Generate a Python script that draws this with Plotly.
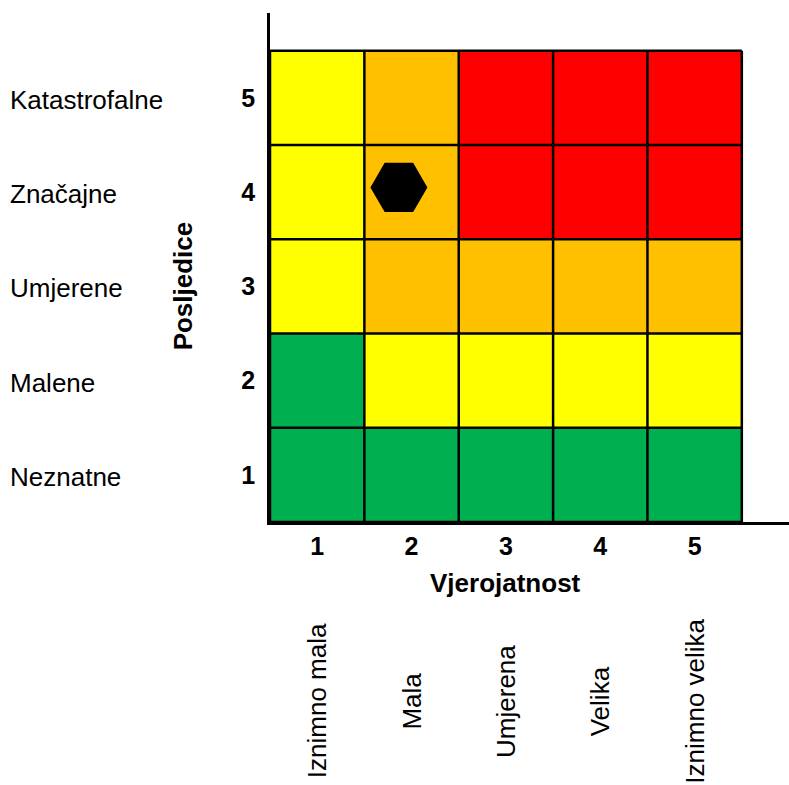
import plotly.graph_objects as go

# Data
likelihood = [1, 2, 3, 4, 5]
consequence = [1, 2, 3, 4, 5]
likelihood_labels = ["Iznimno mala", "Mala", "Umjerena", "Velika", "Iznimno velika"]
consequence_labels = ["Neznatne", "Malene", "Umjerene", "Značajne", "Katastrofalne"]
# risk level per cell: rows = consequence 1..5, cols = likelihood 1..5
# 1 = green, 2 = yellow, 3 = orange, 4 = red
risk_level = [
    [1, 1, 1, 1, 1],
    [1, 2, 2, 2, 2],
    [2, 3, 3, 3, 3],
    [2, 3, 4, 4, 4],
    [2, 3, 4, 4, 4],
]
point_x = [1.866]
point_y = [4.05]

GREEN, YELLOW, ORANGE, RED = "#00B050", "#FFFF00", "#FFC000", "#FF0000"
FONT = "Arial, Liberation Sans, sans-serif"
FS = 26

colorscale = [
    [0.0, GREEN], [1 / 6, GREEN],
    [1 / 6, YELLOW], [0.5, YELLOW],
    [0.5, ORANGE], [5 / 6, ORANGE],
    [5 / 6, RED], [1.0, RED],
]

fig = go.Figure()
fig.add_trace(go.Heatmap(
    x=likelihood, y=consequence, z=risk_level,
    colorscale=colorscale, zmin=1, zmax=4, showscale=False,
    hoverinfo="skip",
))
fig.add_trace(go.Scatter(
    x=point_x, y=point_y, mode="markers",
    marker=dict(symbol="hexagon2", size=57, color="black", line=dict(width=0)),
    showlegend=False, cliponaxis=False,
))

# Cell borders
n = len(likelihood)
lo, hi = likelihood[0] - 0.5, likelihood[-1] + 0.5
shapes = []
for i in range(n + 1):
    v = lo + i
    shapes.append(dict(type="line", xref="x", yref="y", x0=v, x1=v, y0=lo, y1=hi,
                       line=dict(color="black", width=2.5)))
    shapes.append(dict(type="line", xref="x", yref="y", x0=lo, x1=hi, y0=v, y1=v,
                       line=dict(color="black", width=2.5)))

annotations = []
for c, lab in zip(consequence, consequence_labels):
    annotations.append(dict(text=lab, xref="paper", yref="y", x=-0.505, y=c - 0.02,
                            xanchor="left", yanchor="middle", showarrow=False,
                            font=dict(family=FONT, size=FS, color="black")))
for l, lab in zip(likelihood, likelihood_labels):
    annotations.append(dict(text=lab, xref="x", yref="paper", x=l, y=-0.3517,
                            xanchor="center", yanchor="middle", textangle=-90,
                            showarrow=False,
                            font=dict(family=FONT, size=FS, color="black")))
annotations.append(dict(text="Vjerojatnost", xref="x", yref="paper", x=3, y=-0.12,
                        xanchor="center", yanchor="middle", showarrow=False,
                        font=dict(family=FONT, size=FS, color="black", weight="bold")))
annotations.append(dict(text="Posljedice", xref="paper", yref="y", x=-0.1676, y=3,
                        xanchor="center", yanchor="middle", textangle=-90, showarrow=False,
                        font=dict(family=FONT, size=FS, color="black", weight="bold")))

fig.update_layout(
    width=789, height=785,
    margin=dict(l=270, r=0, t=13, b=263),
    paper_bgcolor="white", plot_bgcolor="white",
    shapes=shapes, annotations=annotations,
    showlegend=False,
    xaxis=dict(range=[0.5, 6.0], tickvals=likelihood, ticktext=[str(v) for v in likelihood],
               showgrid=False, zeroline=False, showline=True, linecolor="black", linewidth=2.5,
               ticks="", ticklabelstandoff=0,
               tickfont=dict(family=FONT, size=FS - 1, color="black", weight="bold"),
               fixedrange=True),
    yaxis=dict(range=[0.5, 5.9], tickvals=consequence, ticktext=[str(v) for v in consequence],
               showgrid=False, zeroline=False, showline=True, linecolor="black", linewidth=2.5,
               ticks="", ticklabelstandoff=7,
               tickfont=dict(family=FONT, size=FS - 1, color="black", weight="bold"),
               fixedrange=True),
)

fig.write_html("out.html", config={"displayModeBar": False},
               post_script="document.body.style.margin='0px';document.body.style.overflow='hidden';")
